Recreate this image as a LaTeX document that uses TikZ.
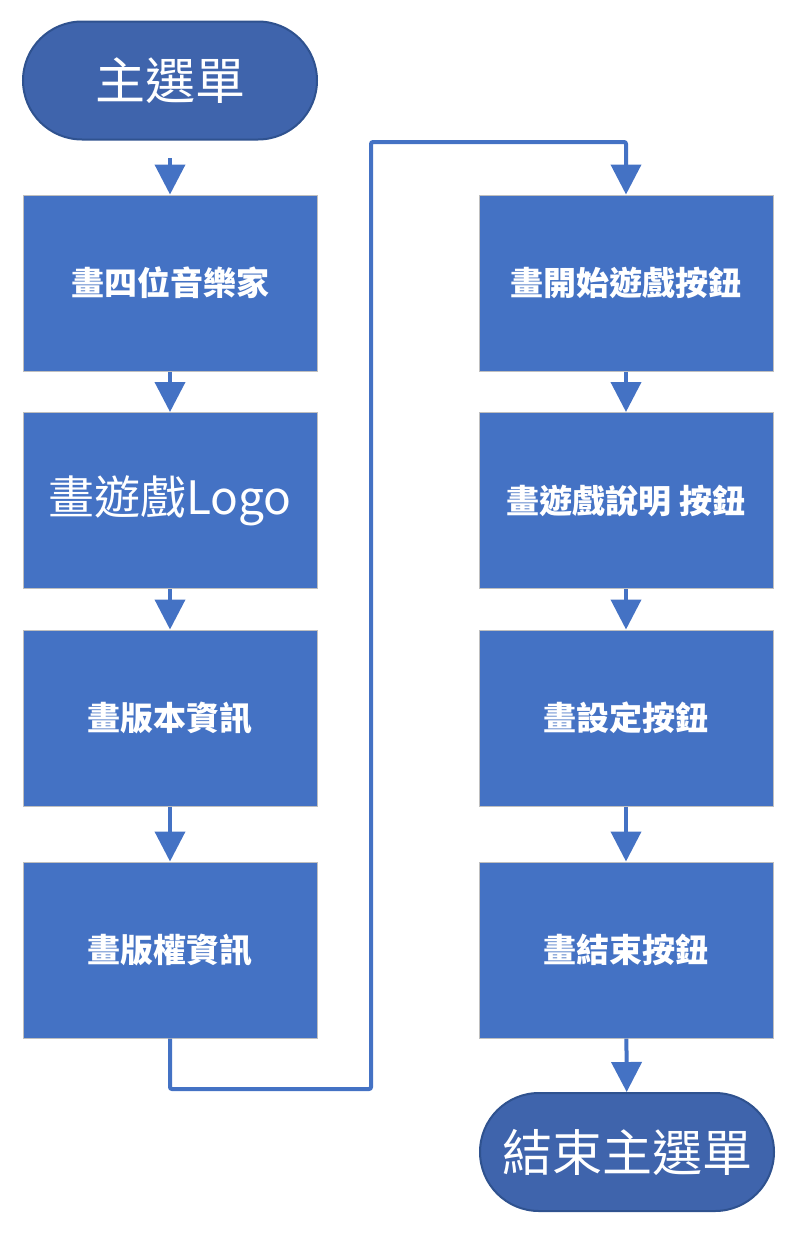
\documentclass[tikz,border=0pt]{standalone}
\usepackage{fontspec}
\newfontfamily\cjk{Noto Sans CJK TC}
\usetikzlibrary{arrows.meta,shapes.misc}
\definecolor{boxblue}{HTML}{4472C4}
\definecolor{termblue}{HTML}{3F64AC}
\definecolor{termedge}{HTML}{2F528F}
\definecolor{boxedge}{HTML}{BFBFBF}
\begin{document}
\begin{tikzpicture}[x=1pt,y=-1pt,
  stepbox/.style={draw=boxedge,line width=1pt,fill=boxblue,minimum width=294pt,minimum height=176pt,
    inner sep=0pt,text=white,font=\cjk\bfseries\fontsize{33}{37}\selectfont},
  term/.style={draw=termedge,line width=2pt,fill=termblue,rounded rectangle,minimum width=294pt,
    minimum height=118pt,inner sep=0pt,text=white,font=\cjk\fontsize{50}{56}\selectfont},
  flow/.style={draw=boxblue,line width=4pt,-{Triangle[width=30pt,length=30pt]}},
  link/.style={draw=boxblue,line width=4pt,rounded corners=2pt}]
\useasboundingbox (0,0) rectangle (797,1234);
% left column
\node[term] (start) at (170,80.5) {主選單};
\node[stepbox] (a1) at (170,283) {畫四位音樂家};
\node[stepbox,font=\cjk\fontsize{46}{52}\selectfont] (a2) at (170,500.5) {畫遊戲Logo};
\node[stepbox] (a3) at (170,718) {畫版本資訊};
\node[stepbox] (a4) at (170,950) {畫版權資訊};
% right column
\node[stepbox] (b1) at (626,283) {畫開始遊戲按鈕};
\node[stepbox] (b2) at (626,500.5) {畫遊戲說明 按鈕};
\node[stepbox] (b3) at (626,718) {畫設定按鈕};
\node[stepbox] (b4) at (626,950) {畫結束按鈕};
\node[term] (stop) at (627,1152) {結束主選單};
% connectors
\coordinate (s0) at (170,158);
\draw[flow] (s0) -- (a1.north);
\draw[flow] (a1) -- (a2);
\draw[flow] (a2) -- (a3);
\draw[flow] (a3) -- (a4);
\coordinate (c1) at (170,1089);
\coordinate (c2) at (371,1089);
\coordinate (c3) at (371,142);
\coordinate (c4) at (626,142);
\draw[link] (a4.south) -- (c1) -- (c2) -- (c3) -- (c4) -- (626,170);
\draw[flow] (626,160) -- (b1.north);
\draw[flow] (b1) -- (b2);
\draw[flow] (b2) -- (b3);
\draw[flow] (b3) -- (b4);
\draw[flow] (b4) -- (stop);
\end{tikzpicture}
\end{document}
